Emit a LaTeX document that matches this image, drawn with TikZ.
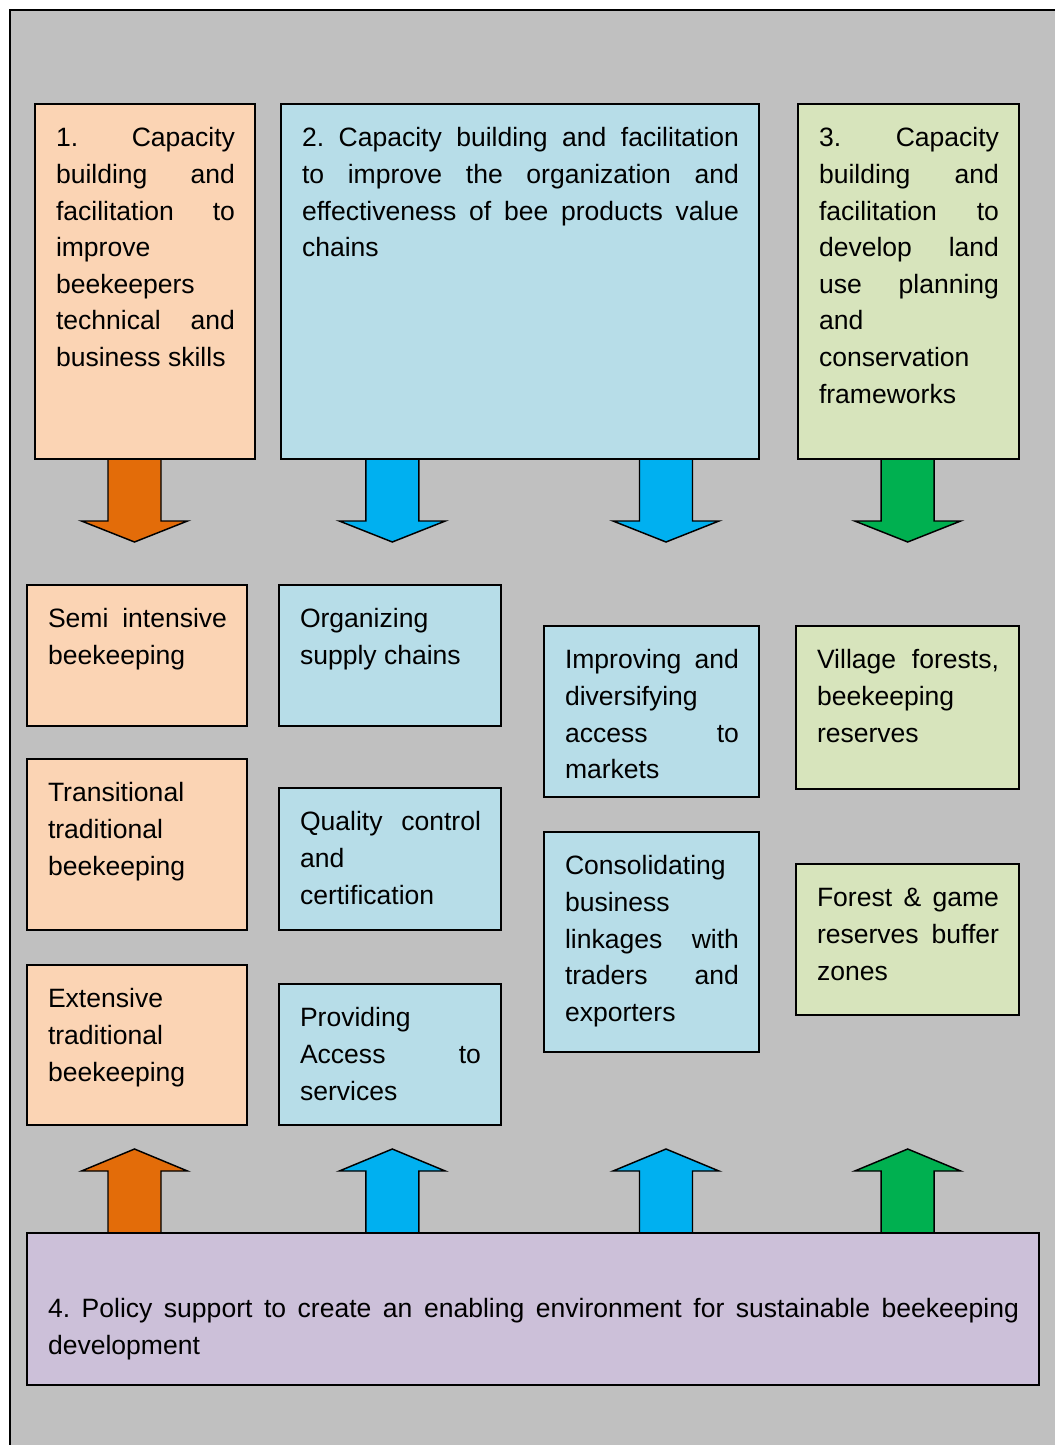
\documentclass[tikz,border=0pt]{standalone}
\usepackage{fontspec}
\setmainfont{Liberation Sans}
\definecolor{bggray}{HTML}{C0C0C0}
\definecolor{peach}{HTML}{FBD4B4}
\definecolor{lblue}{HTML}{B7DDE8}
\definecolor{lgreen}{HTML}{D7E4BC}
\definecolor{lpurple}{HTML}{CCC0D9}
\definecolor{aorange}{HTML}{E36C09}
\definecolor{ablue}{HTML}{00B0F0}
\definecolor{agreen}{HTML}{00B050}
\newcommand{\txtsetup}{\fontsize{19.9}{27.5}\selectfont\frenchspacing
  \hyphenpenalty=10000\relax\exhyphenpenalty=10000\relax
  \tolerance=10000\relax\hbadness=10000\relax}
\tikzset{
  boxbase/.style={draw=black, line width=1.2pt, inner sep=0pt, outer sep=0pt},
  obox/.style={boxbase, fill=peach},
  bbox/.style={boxbase, fill=lblue},
  gbox/.style={boxbase, fill=lgreen},
  pbox/.style={boxbase, fill=lpurple},
  txt/.style={inner sep=0pt, outer sep=0pt, align=justify, font=\txtsetup},
  blockarrow/.style={draw=black, line width=1.1pt, line join=miter}
}
\newcommand{\mybox}[8]{%
  \pgfmathsetmacro\bw{(#4-#2)*0.75}%
  \pgfmathsetmacro\bh{(#5-#3)*0.75}%
  \pgfmathsetmacro\tw{(#4-#2-41)*0.75}%
  \node[#6, minimum width=\bw pt, minimum height=\bh pt, anchor=north west] (#1) at (#2,#3) {};
  \node[txt, text width=\tw pt, anchor=north west] (#1t) at (#2+21,#3+#7) {\strut #8};
}
\newcommand{\downarrowshape}[2]{%
  \draw[blockarrow, fill=#2] (#1-26.5,459) -- (#1+26.5,459) -- (#1+26.5,521) -- (#1+53,521) -- (#1,542) -- (#1-53,521) -- (#1-26.5,521) -- cycle;
}
\newcommand{\uparrowshape}[2]{%
  \draw[blockarrow, fill=#2] (#1-26.5,1233) -- (#1-26.5,1171) -- (#1-53,1171) -- (#1,1149) -- (#1+53,1171) -- (#1+26.5,1171) -- (#1+26.5,1233) -- cycle;
}
\begin{document}
\begin{tikzpicture}[x=0.75pt, y=-0.75pt]
\useasboundingbox (0,0) rectangle (1055,1445);
\fill[white] (0,0) rectangle (1055,1445);
\draw[fill=bggray, line width=1.2pt] (10,1460) -- (10,10) -- (1070,10) -- (1070,1460) -- cycle;

% arrows (drawn first so boxes overlap their ends)
\downarrowshape{134.5}{aorange}
\downarrowshape{392.3}{ablue}
\downarrowshape{666}{ablue}
\downarrowshape{907.7}{agreen}
\uparrowshape{134.5}{aorange}
\uparrowshape{392.3}{ablue}
\uparrowshape{666}{ablue}
\uparrowshape{907.7}{agreen}

% top boxes
\mybox{b1}{35}{104}{255}{459}{obox}{17}{1.~Capacity\linebreak building~and\linebreak facilitation~to\linebreak improve\linebreak beekeepers\linebreak technical~and\linebreak business~skills}
\mybox{b2}{281}{104}{759}{459}{bbox}{17}{2.~Capacity~building~and~facilitation\linebreak to~improve~the~organization~and\linebreak effectiveness~of~bee~products~value\linebreak chains}
\mybox{b3}{798}{104}{1019}{459}{gbox}{17}{3.~Capacity\linebreak building~and\linebreak facilitation~to\linebreak develop~land\linebreak use~planning\linebreak and\linebreak conservation\linebreak frameworks}

% column 1
\mybox{c11}{27}{585}{247}{726}{obox}{17}{Semi~intensive\linebreak beekeeping}
\mybox{c12}{27}{759}{247}{930}{obox}{17}{Transitional\linebreak traditional\linebreak beekeeping}
\mybox{c13}{27}{965}{247}{1125}{obox}{17}{Extensive\linebreak traditional\linebreak beekeeping}

% column 2
\mybox{c21}{279}{585}{501}{726}{bbox}{17}{Organizing\linebreak supply~chains}
\mybox{c22}{279}{788}{501}{930}{bbox}{17}{Quality~control\linebreak and\linebreak certification}
\mybox{c23}{279}{984}{501}{1125}{bbox}{17}{Providing\linebreak Access~to\linebreak services}

% column 3
\mybox{c31}{544}{626}{759}{797}{bbox}{17}{Improving~and\linebreak diversifying\linebreak access~to\linebreak markets}
\mybox{c32}{544}{832}{759}{1052}{bbox}{17}{Consolidating\linebreak business\linebreak linkages~with\linebreak traders~and\linebreak exporters}

% column 4
\mybox{c41}{796}{626}{1019}{789}{gbox}{17}{Village~forests,\linebreak beekeeping\linebreak reserves}
\mybox{c42}{796}{864}{1019}{1015}{gbox}{17}{Forest~\&~game\linebreak reserves~buffer\linebreak zones}

% bottom box
\mybox{b4}{27}{1233}{1039}{1385}{pbox}{59}{4.~Policy~support~to~create~an~enabling~environment~for~sustainable~beekeeping\linebreak development}
\end{tikzpicture}
\end{document}
